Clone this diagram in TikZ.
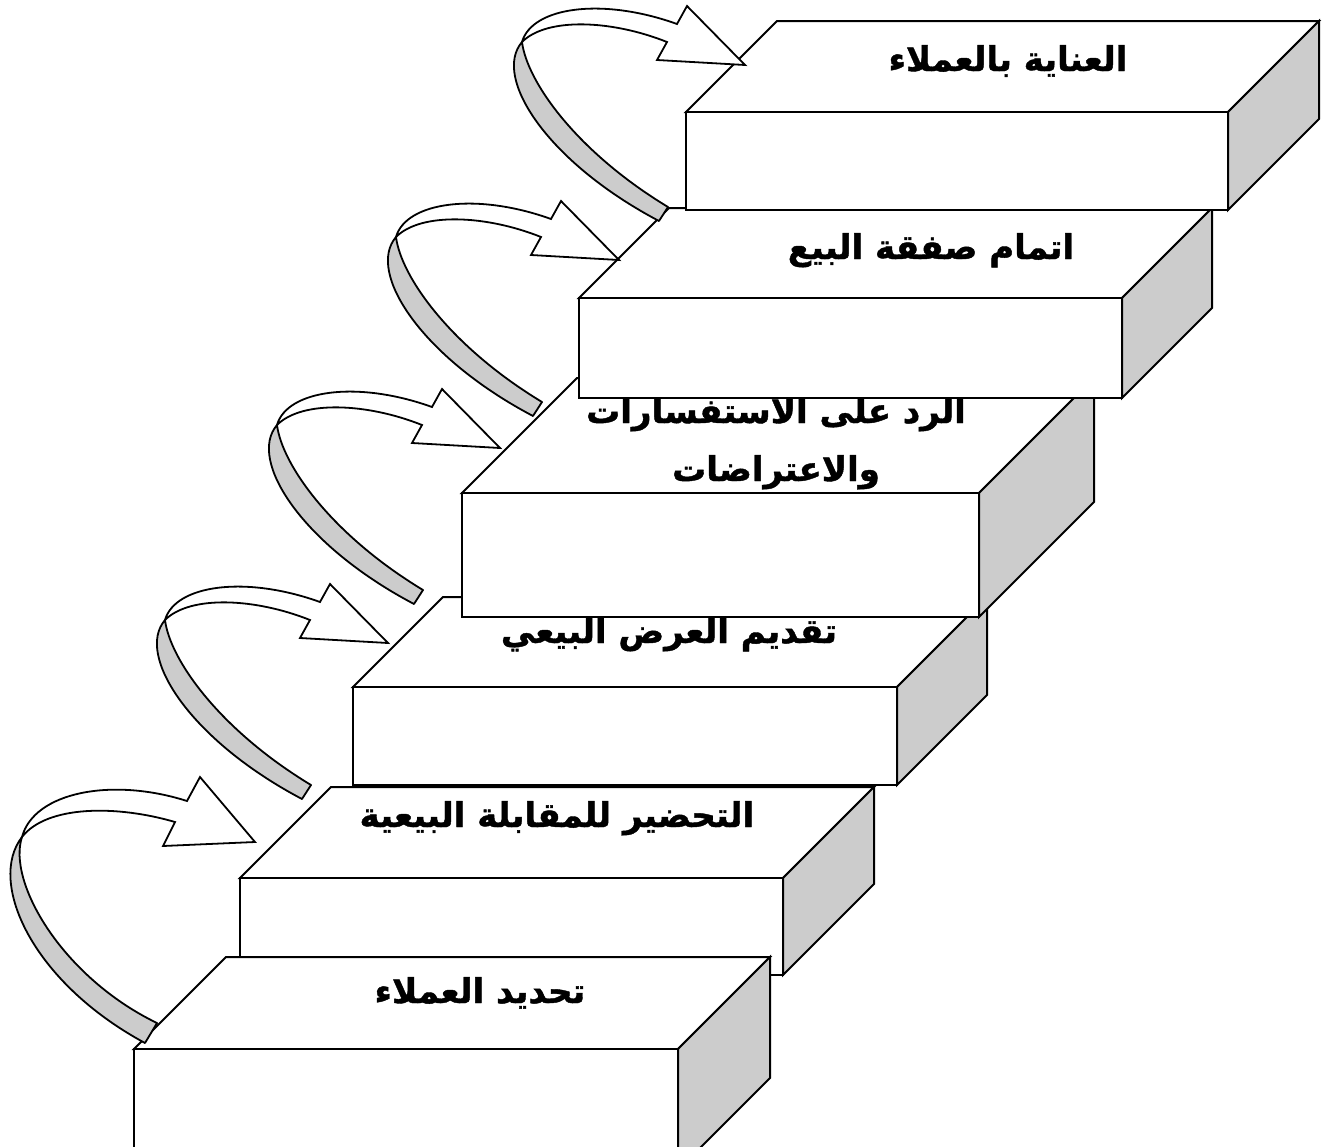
\documentclass[tikz,border=0pt]{standalone}
\usepackage{fontspec}
\newfontfamily\arabicfont[Script=Arabic, BoldFeatures={FakeBold=1.2}]{DejaVu Sans}
\TeXXeTstate=1
\definecolor{sidegray}{RGB}{204,204,204}
\tikzset{
  topface/.style={fill=white, draw=black, line width=1pt},
  sideface/.style={fill=sidegray, draw=black, line width=1pt},
  ribbon/.style={fill=sidegray, draw=black, line width=0.9pt, line join=round},
  ribbonhead/.style={fill=white, draw=black, line width=0.9pt, line join=miter},
  steptext/.style={font=\arabicfont\bfseries\fontsize{17}{20}\selectfont, inner sep=0pt, anchor=base}
}
% #1 name, #2 x1, #3 y top, #4 x2, #5 y bottom, #6 depth, #7 text drawn on the top face
\newcommand{\stairblock}[7]{%
  \coordinate (#1fl) at (#2,#3);
  \coordinate (#1fr) at (#4,#3);
  \coordinate (#1bl) at (#2+#6,#3-#6);
  \coordinate (#1br) at (#4+#6,#3-#6);
  \coordinate (#1sb) at (#4+#6,#5-#6);
  \coordinate (#1ff) at (#4,#5);
  \filldraw[topface] (#1fl) -- (#1bl) -- (#1br) -- (#1fr) -- cycle;
  \filldraw[sideface] (#1fr) -- (#1br) -- (#1sb) -- (#1ff) -- cycle;
  #7
  \filldraw[topface] (#1fl) rectangle (#1ff);
}
% curved ribbon arrow, anchored at the twist point
\newcommand{\stairarrow}[3]{%
  \begin{scope}[shift={(#2,#3)}]
    \coordinate (#1) at (0,0);
    \filldraw[ribbon] (#1) .. controls (-30,35) and (25,120) .. (137,179)
      -- (146,165) .. controls (55,110) and (5,40) .. (#1) -- cycle;
    \filldraw[ribbonhead] (#1) .. controls (10,-35) and (80,-45) .. (155,-18)
      -- (165,-36) -- (223,23) -- (135,18) -- (145,0)
      .. controls (90,-22) and (25,-25) .. (#1) -- cycle;
  \end{scope}
}
\begin{document}
\begin{tikzpicture}[x=0.5pt,y=-0.5pt]
\useasboundingbox (0,0) rectangle (1328,1146);
\clip (0,0) rectangle (1328,1146);

\stairblock{b2}{240}{878}{783}{975}{91}{%
  \node[steptext] (t2) at (557,827) {\beginR التحضير للمقابلة البيعية\endR};}
\stairblock{b1}{134}{1049}{678}{1170}{92}{%
  \node[steptext] (t1) at (480,1003) {\beginR تحديد العملاء\endR};}
\stairblock{b3}{353}{687}{897}{785}{90}{%
  \node[steptext] (t3) at (669,643) {\beginR تقديم العرض البيعي\endR};}
\stairblock{b4}{462}{493}{979}{617}{115}{%
  \node[steptext] (t4a) at (776,423) {\beginR الرد على الاستفسارات\endR};
  \node[steptext] (t4b) at (776,481) {\beginR والاعتراضات\endR};}
\stairblock{b5}{579}{298}{1122}{398}{90}{%
  \node[steptext] (t5) at (931,259) {\beginR اتمام صفقة البيع\endR};}
\stairblock{b6}{686}{112}{1228}{210}{91}{%
  \node[steptext] (t6) at (1008,71) {\beginR العناية بالعملاء\endR};}

% arrow 1 (taller than the others)
\begin{scope}[shift={(22,837)}]
  \coordinate (a1) at (0,0);
  \filldraw[ribbon] (a1) .. controls (-35,45) and (10,145) .. (123,206)
    -- (135,186) .. controls (40,140) and (-15,45) .. (a1) -- cycle;
  \filldraw[ribbonhead] (a1) .. controls (12,-45) and (90,-60) .. (165,-36)
    -- (178,-60) -- (233,5) -- (141,9) -- (153,-15)
    .. controls (95,-32) and (25,-32) .. (a1) -- cycle;
\end{scope}
\stairarrow{a2}{165}{620}
\stairarrow{a3}{277}{425}
\stairarrow{a4}{396}{237}
\stairarrow{a5}{522}{42}
\end{tikzpicture}
\end{document}
